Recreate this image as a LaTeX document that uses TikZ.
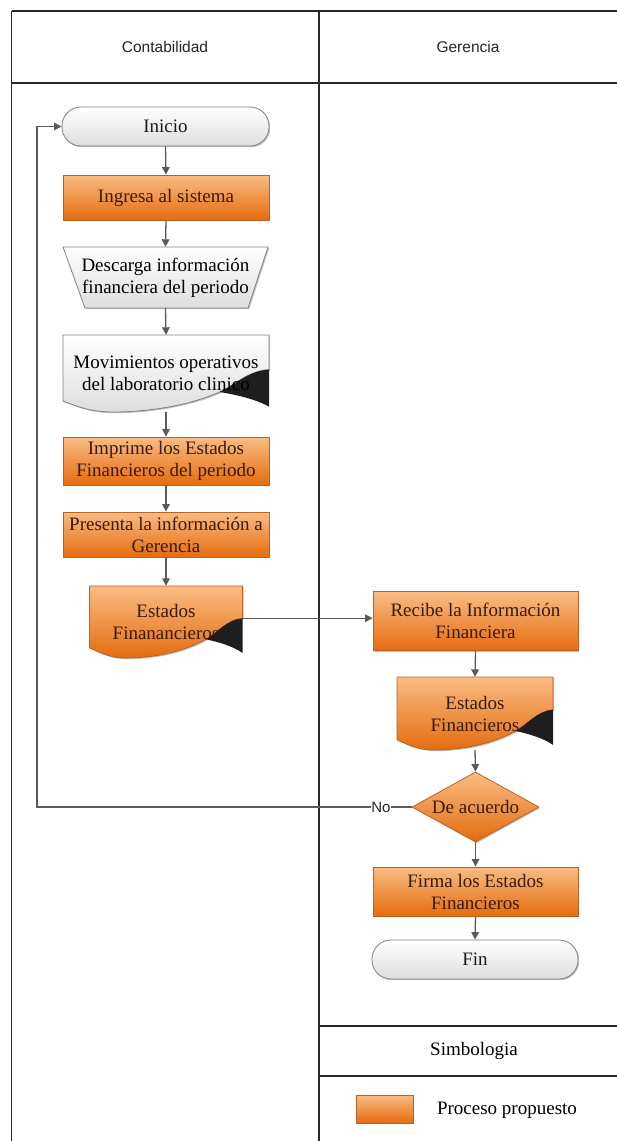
\documentclass[tikz,border=0pt]{standalone}
\usepackage{fontspec}
\setmainfont{Liberation Serif}
\newfontfamily\lanefont{Liberation Sans}
\usetikzlibrary{arrows.meta,shapes.geometric,shadows,calc}

\definecolor{orTop}{RGB}{250,188,132}
\definecolor{orBot}{RGB}{228,108,14}
\definecolor{orLine}{RGB}{186,98,36}
\definecolor{orText}{RGB}{58,26,10}
\definecolor{gyLine}{RGB}{130,130,130}
\definecolor{gyBot}{RGB}{222,222,222}
\definecolor{connC}{RGB}{90,90,90}
\definecolor{laneC}{RGB}{40,40,40}
\definecolor{curlC}{RGB}{30,30,30}

\tikzset{
  softshadow/.style={drop shadow={shadow xshift=1.2pt, shadow yshift=-1.2pt, opacity=0.25, fill=black}},
  txt/.style={font=\fontsize{19}{22}\selectfont, align=center, inner sep=0pt},
  orfill/.style={draw=orLine, line width=0.8pt, top color=orTop, bottom color=orBot, softshadow},
  gyfill/.style={draw=gyLine, line width=0.8pt, top color=white, bottom color=gyBot, softshadow},
  proc/.style={txt, rectangle, orfill, text=orText},
  term/.style={txt, rectangle, rounded corners=19pt, gyfill, text=black!90},
  frame/.style={txt, rectangle, draw=none},
  decision/.style={diamond, inner sep=0pt, orfill},
  conn/.style={draw=connC, line width=1.3pt, -{Triangle[length=7.5pt,width=7.5pt]}},
  plain/.style={draw=connC, line width=1.3pt},
  lane/.style={draw=laneC, line width=1.1pt},
  lanetitle/.style={font=\lanefont\fontsize{15.5}{18}\selectfont, text=black!85},
}

% document symbol: box with a wavy bottom and a dark curl at the lower right
\newcommand\docshape[5]{%
  \begin{scope}[shift={(#1,#2)}, x=#3pt, y=-#4pt]
    \path[#5] (0,0) -- (1,0) -- (1,.45)
      .. controls (.9,.46) and (.83,.66) .. (.76,.74)
      .. controls (.6,.93) and (.40,1) .. (.24,1)
      .. controls (.12,1) and (.05,.9) .. (0,.86) -- cycle;
    \fill[curlC] (1,.45) .. controls (.9,.46) and (.83,.66) .. (.76,.74)
      .. controls (.85,.78) and (.94,.84) .. (1,.93) -- cycle;
  \end{scope}}

\begin{document}
\begin{tikzpicture}[x=1pt, y=-1pt]
  \useasboundingbox (0,0) rectangle (617,1141);
  \fill[white] (0,0) rectangle (617,1141);

  % swimlanes
  \draw[lane] (11.5,11) -- (617,11);
  \draw[lane] (11.5,83) -- (617,83);
  \draw[lane] (11.5,11) -- (11.5,1141);
  \draw[lane] (319,11) -- (319,1141);
  \draw[lane] (319,1026) -- (617,1026);
  \draw[lane] (319,1076) -- (617,1076);
  \node[lanetitle] (hc) at (165,47) {Contabilidad};
  \node[lanetitle] (hg) at (468,47) {Gerencia};

  % shapes drawn as paths
  \path[gyfill] (63,247) -- (268,247) -- (248,308) -- (85,308) -- cycle;
  \docshape{63}{335}{206}{77}{gyfill}
  \docshape{89.5}{586}{153}{72}{orfill}
  \docshape{397}{677}{156}{73}{orfill}

  % Contabilidad
  \node[term, minimum width=207pt, minimum height=39pt] (ini) at (165.5,126.5) {Inicio};
  \node[proc, minimum width=206pt, minimum height=45pt] (ing) at (166,197.5) {Ingresa al sistema};
  \node[frame, minimum width=205pt, minimum height=61pt] (desc) at (165.5,277.5) {Descarga información\\financiera del periodo};
  \node[frame, minimum width=206pt, minimum height=77pt] (mov) at (166,373.5) {Movimientos operativos\\del laboratorio clinico};
  \node[proc, minimum width=206pt, minimum height=48pt] (imp) at (166,461) {Imprime los Estados\\Financieros del periodo};
  \node[proc, minimum width=206pt, minimum height=45pt] (pre) at (166,534.5) {Presenta la información a\\Gerencia};
  \node[frame, minimum width=153pt, minimum height=72pt, text=orText] (lest) at (166,622) {Estados\\Finanancieros};

  % Gerencia
  \node[proc, minimum width=205pt, minimum height=59pt] (rec) at (475.5,621.3) {Recibe la Información\\Financiera};
  \node[frame, minimum width=156pt, minimum height=73pt, text=orText] (rest) at (475,713.5) {Estados\\Financieros};
  \node[decision, minimum width=127pt, minimum height=70pt,
        label={[txt, text=orText]center:De acuerdo}] (dec) at (475.5,807) {};
  \node[proc, minimum width=205pt, minimum height=49pt] (fir) at (475.5,891.5) {Firma los Estados\\Financieros};
  \node[term, minimum width=206pt, minimum height=39pt] (fin) at (475,959.5) {Fin};
  \node[lanetitle, font=\lanefont\fontsize{15}{18}\selectfont, inner sep=0.5pt] (no) at (381,807) {No};

  % legend
  \node[txt] (sym) at (474,1051) {Simbologia};
  \node[proc, minimum width=57pt, minimum height=28pt] (leg) at (384.5,1109) {};
  \node[txt] (legtxt) at (507,1110) {Proceso propuesto};

  % connectors
  \draw[conn] (ini.south) -- (ing.north);
  \draw[conn] (ing.south) -- (desc.north);
  \draw[conn] (desc.south) -- (mov.north);
  \draw[conn] (mov.south) -- (imp.north);
  \draw[conn] (imp.south) -- (pre.north);
  \draw[conn] (pre.south) -- (lest.north);
  \coordinate (lestR) at ($(lest.north east)+(0,32.4)$);
  \draw[conn] (lestR) -- (lestR -| rec.west);
  \draw[conn] (rec.south) -- (rest.north);
  \draw[conn] (rest.south) -- (dec.north);
  \draw[conn] (dec.south) -- (fir.north);
  \draw[conn] (fir.south) -- (fin.north);
  \draw[plain] (dec.west) -- (no.east);
  \coordinate (loopc) at (37,807);
  \draw[conn] (no.west) -- (loopc) |- (ini.west);
\end{tikzpicture}
\end{document}
